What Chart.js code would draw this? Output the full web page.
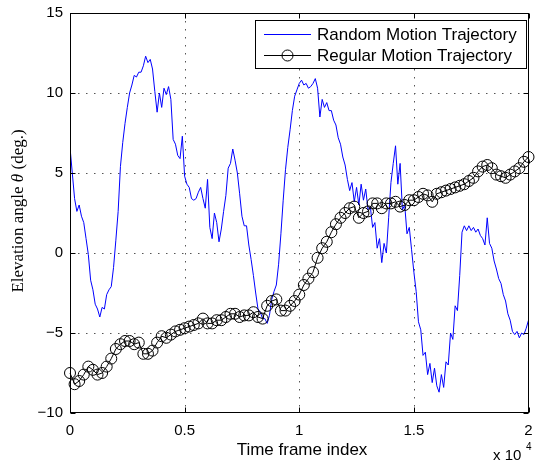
<!DOCTYPE html>
<html>
<head>
<meta charset="utf-8">
<title>Elevation angle trajectories</title>
<script src="https://cdn.jsdelivr.net/npm/chart.js@4.4.1/dist/chart.umd.min.js"></script>
<style>
  html, body { margin: 0; padding: 0; background: #fff; }
  #wrap { width: 535px; height: 466px; }
</style>
</head>
<body>
<div id="wrap"><canvas id="elevChart" width="535" height="466"></canvas></div>
<script>
// --- data ---
const seriesNames = ['Random Motion Trajectory', 'Regular Motion Trajectory'];
const xTicks = [0, 5000, 10000, 15000, 20000];
const yTicks = [-10, -5, 0, 5, 10, 15];

// blue trace, one sample every 100 frames (0 .. 20000)
const randomStep = 100;
const randomMotion = [
    6.6, 5.0, 3.4, 2.6, 3.0, 2.3, 1.9, 0.9, -0.1, -1.7, -2.3,
    -3.2, -3.5, -4.0, -3.4, -3.5, -2.6, -2.3, -2.1, -0.9, 0.8,
    2.6, 5.4, 6.9, 8.1, 9.1, 10.0, 10.5, 11.1, 11.0, 11.3,
    11.3, 11.7, 12.3, 11.9, 12.1, 11.5, 10.1, 8.8, 10.0, 9.1,
    10.3, 9.9, 10.4, 9.6, 7.1, 6.8, 6.1, 5.9, 7.3, 4.8,
    4.3, 4.1, 3.4, 3.3, 3.4, 3.8, 4.1, 3.4, 2.8, 4.6,
    1.6, 0.9, 2.5, 1.9, 0.7, 1.5, 2.6, 3.6, 5.3, 5.6,
    6.5, 5.8, 5.0, 3.7, 2.3, 1.7, 1.7, 0.5, -0.4, -1.4,
    -2.5, -3.5, -3.7, -4.1, -4.1, -4.4, -3.9, -2.9, -2.4, -2.0,
    -0.7, 1.2, 3.3, 5.2, 6.6, 7.7, 8.9, 9.8, 10.2, 10.6,
    10.8, 10.5, 10.6, 10.3, 10.4, 10.6, 10.9, 10.3, 8.5, 9.6,
    9.1, 9.4, 8.9, 8.9, 8.3, 8.0, 7.2, 6.8, 6.0, 5.5,
    4.6, 3.9, 4.4, 3.2, 4.1, 3.0, 4.3, 3.3, 4.0, 2.7,
    2.9, 1.6, 1.9, 0.3, 0.9, -0.6, 0.6, 0.0, 2.2, 4.4,
    5.6, 6.7, 4.3, 5.6, 2.7, 3.0, 1.2, 1.6, 0.2, -1.2,
    -2.4, -4.3, -4.8, -6.4, -6.2, -7.6, -6.9, -8.1, -7.2, -8.3,
    -8.7, -7.6, -8.4, -6.8, -7.0, -5.0, -5.4, -3.3, -3.6, -1.4,
    1.3, 1.7, 1.4, 1.7, 1.4, 1.6, 1.3, 1.5, 1.1, 0.9,
    0.5, 2.2, 0.6, 0.3, -0.5, -1.0, -1.6, -1.9, -2.6, -3.0,
    -3.8, -4.2, -4.9, -5.1, -4.9, -5.3, -5.0, -5.1, -4.7, -4.2
];

// black trace with circles, one sample every 200 frames (0 .. 20000)
const regularStep = 200;
const regularMotion = [
    -7.5, -8.2, -8.0, -7.6, -7.1, -7.3, -7.6, -7.5, -7.1, -6.6,
    -6.0, -5.7, -5.5, -5.5, -5.7, -5.6, -6.3, -6.3, -6.1, -5.6,
    -5.2, -5.3, -5.1, -4.9, -4.8, -4.7, -4.6, -4.5, -4.4, -4.1,
    -4.4, -4.4, -4.2, -4.2, -4.0, -3.8, -3.8, -4.0, -3.9, -3.9,
    -3.7, -4.0, -4.1, -3.3, -3.0, -2.9, -3.6, -3.6, -3.3, -3.0,
    -2.6, -2.0, -1.6, -1.2, -0.3, 0.3, 0.7, 1.3, 1.8, 2.2,
    2.5, 2.8, 2.9, 2.2, 2.5, 2.6, 3.1, 3.1, 2.8, 3.1,
    3.1, 3.2, 2.9, 3.0, 3.3, 3.3, 3.5, 3.7, 3.6, 3.2,
    3.7, 3.8, 3.9, 4.0, 4.1, 4.2, 4.3, 4.5, 4.7, 5.1,
    5.4, 5.5, 5.3, 4.9, 4.8, 4.7, 4.9, 5.1, 5.3, 5.7,
    6.0
];

const toPoints = (vals, step) => vals.map((v, i) => ({ x: i * step, y: v }));
const fmtY = v => (v < 0 ? '\u2212' + Math.abs(v) : String(v));
const SANS = '"Liberation Sans", Arial, sans-serif';
const SERIF = '"Liberation Serif", "DejaVu Serif", serif';

// grid, box, inward ticks, axis labels and legend in MATLAB style
const matlabFrame = {
    id: 'matlabFrame',
    beforeDatasetsDraw(chart) {
        const { ctx, chartArea: a, scales: { x, y } } = chart;
        ctx.save();
        ctx.strokeStyle = '#555';
        ctx.lineWidth = 1;
        ctx.setLineDash([1.5, 6.5]);
        ctx.beginPath();
        xTicks.slice(1, -1).forEach(v => {
            const px = Math.round(x.getPixelForValue(v)) + 0.5;
            ctx.moveTo(px, a.top); ctx.lineTo(px, a.bottom);
        });
        yTicks.slice(1, -1).forEach(v => {
            const py = Math.round(y.getPixelForValue(v)) + 0.5;
            ctx.moveTo(a.left, py); ctx.lineTo(a.right, py);
        });
        ctx.stroke();
        ctx.restore();
    },
    afterDatasetsDraw(chart) {
        const { ctx, chartArea: a, scales: { x, y } } = chart;
        ctx.save();
        ctx.strokeStyle = '#000';
        ctx.lineWidth = 1;
        ctx.setLineDash([]);

        // box
        const L = Math.round(a.left) + 0.5, R = Math.round(a.right) - 0.5;
        const T = Math.round(a.top) + 0.5, B = Math.round(a.bottom) - 0.5;
        ctx.strokeRect(L, T, R - L, B - T);

        // inward ticks on all four sides
        const tl = 5;
        ctx.beginPath();
        xTicks.forEach(v => {
            const px = Math.round(x.getPixelForValue(v)) + 0.5;
            ctx.moveTo(px, B); ctx.lineTo(px, B - tl);
            ctx.moveTo(px, T); ctx.lineTo(px, T + tl);
        });
        yTicks.forEach(v => {
            const py = Math.round(y.getPixelForValue(v)) + 0.5;
            ctx.moveTo(L, py); ctx.lineTo(L + tl, py);
            ctx.moveTo(R, py); ctx.lineTo(R - tl, py);
        });
        ctx.stroke();

        // x label and exponent
        ctx.fillStyle = '#000';
        ctx.textAlign = 'center';
        ctx.textBaseline = 'alphabetic';
        ctx.font = '17px ' + SANS;
        ctx.fillText('Time frame index', 302, 455);
        ctx.textAlign = 'left';
        ctx.font = '15px ' + SANS;
        ctx.fillText('x 10', 493, 460);
        ctx.font = '10px ' + SANS;
        ctx.fillText('4', 526, 450);

        // y label (LaTeX-like serif, theta italic)
        const parts = [['Elevation angle ', ''], ['\u03b8', 'italic '], [' (deg.)', '']];
        const size = 17;
        let total = 0;
        parts.forEach(p => { ctx.font = p[1] + size + 'px ' + SERIF; total += ctx.measureText(p[0]).width; });
        ctx.translate(19, 211);
        ctx.rotate(-Math.PI / 2);
        ctx.textBaseline = 'middle';
        let cx = -total / 2;
        parts.forEach(p => {
            ctx.font = p[1] + size + 'px ' + SERIF;
            ctx.fillText(p[0], cx, 0);
            cx += ctx.measureText(p[0]).width;
        });
        ctx.setTransform(1, 0, 0, 1, 0, 0);

        // legend
        ctx.fillStyle = '#fff';
        ctx.fillRect(255.5, 20.5, 271, 48);
        ctx.strokeRect(255.5, 20.5, 271, 48);
        const ds = chart.data.datasets;
        [34, 55].forEach((ly, i) => {
            ctx.strokeStyle = ds[i].borderColor;
            ctx.beginPath();
            ctx.moveTo(264, ly + 0.5); ctx.lineTo(311, ly + 0.5);
            ctx.stroke();
            if (ds[i].pointRadius > 0) {
                ctx.beginPath();
                ctx.arc(287.5, ly + 0.5, ds[i].pointRadius, 0, Math.PI * 2);
                ctx.stroke();
            }
            ctx.fillStyle = '#000';
            ctx.font = '17px ' + SANS;
            ctx.textBaseline = 'alphabetic';
            ctx.fillText(seriesNames[i], 317, ly + 6);
        });
        ctx.restore();
    }
};

const ctx = document.getElementById('elevChart').getContext('2d');
const elevChart = new Chart(ctx, {
    type: 'line',
    data: {
        datasets: [{
            label: seriesNames[0],
            data: toPoints(randomMotion, randomStep),
            borderColor: '#0000ff',
            borderWidth: 1,
            pointRadius: 0,
            tension: 0,
            order: 1,
        }, {
            label: seriesNames[1],
            data: toPoints(regularMotion, regularStep),
            borderColor: '#000000',
            borderWidth: 1,
            pointRadius: 5.5,
            pointBorderColor: '#000000',
            pointBackgroundColor: 'rgba(0,0,0,0)',
            pointBorderWidth: 1,
            tension: 0,
            clip: 8,
            order: 0,
        }],
    },
    options: {
        responsive: false,
        animation: false,
        events: [],
        layout: { padding: { top: 13, right: 3, left: 0, bottom: 0 } },
        plugins: { legend: { display: false }, tooltip: { enabled: false } },
        scales: {
            x: {
                type: 'linear',
                min: 0, max: 20000,
                afterBuildTicks: s => { s.ticks = xTicks.map(v => ({ value: v })); },
                afterFit: s => { s.height = 53; s.paddingLeft = 0; s.paddingRight = 0; },
                grid: { display: false, drawTicks: false },
                border: { display: false },
                ticks: {
                    padding: 9,
                    color: '#000',
                    font: { family: SANS, size: 15 },
                    maxRotation: 0,
                    callback: v => String(v / 10000),
                },
            },
            y: {
                type: 'linear',
                min: -10, max: 15,
                afterBuildTicks: s => { s.ticks = yTicks.map(v => ({ value: v })); },
                afterFit: s => { s.width = 70; s.paddingTop = 0; s.paddingBottom = 0; },
                grid: { display: false, drawTicks: false },
                border: { display: false },
                ticks: {
                    padding: 7,
                    color: '#000',
                    font: { family: SANS, size: 15 },
                    callback: v => fmtY(v),
                },
            },
        },
    },
    plugins: [matlabFrame],
});
</script>
</body>
</html>
